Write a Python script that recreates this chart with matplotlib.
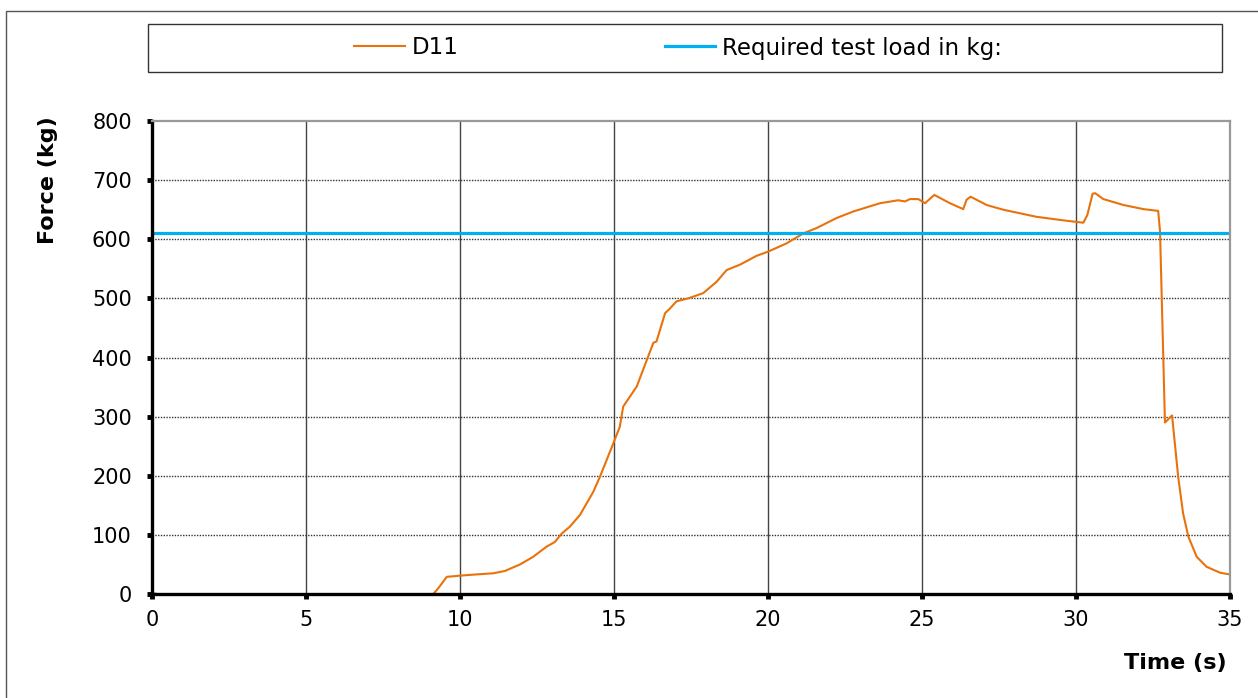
import matplotlib.pyplot as plt
from matplotlib.patches import Rectangle
from matplotlib.lines import Line2D

time_s = [0, 0.5, 1.5, 3, 5, 7, 8, 8.5, 9.0, 9.1, 9.3, 9.57, 10.0, 10.5,
          11.08, 11.46, 11.95, 12.38, 12.81, 13.08, 13.3, 13.57, 13.9, 14.33,
          14.55, 14.98, 15.19, 15.3, 15.74, 16.28, 16.38, 16.66, 16.82, 17.03,
          17.41, 17.9, 18.33, 18.66, 19.09, 19.63, 20.0, 20.6, 21.15, 21.58,
          22.23, 22.77, 23.64, 24.23, 24.45, 24.61, 24.88, 25.1, 25.4, 25.91,
          26.34, 26.45, 26.58, 27.1, 27.64, 28.72, 29.59, 30.24, 30.37, 30.54,
          30.62, 30.89, 31.54, 32.19, 32.67, 32.73, 32.89, 33.12, 33.32, 33.48,
          33.65, 33.92, 34.24, 34.68, 35.0]
force_kg = [2, -4, -4, -4, -4, -4, -3, -2, -3, -2, 10, 29, 31, 33,
            35, 39, 50, 63, 80, 88, 102, 114, 134, 173,
            199, 255, 283, 317, 351, 425, 427, 475, 483, 495,
            500, 509, 528, 548, 557, 572, 579, 593, 610, 619,
            636, 647, 661, 666, 664, 668, 668, 661, 675, 661,
            651, 667, 672, 658, 650, 638, 632, 628, 641, 677,
            678, 668, 658, 651, 648, 613, 290, 302, 198, 136,
            97, 63, 46, 36, 33]

required_load = 610
x_ticks = [0, 5, 10, 15, 20, 25, 30, 35]
y_ticks = [0, 100, 200, 300, 400, 500, 600, 700, 800]

orange = '#E8720C'
blue = '#00B0F0'

plt.rcParams['font.family'] = 'DejaVu Sans'

fig = plt.figure(figsize=(12.58, 6.98), dpi=100)
ax = fig.add_axes([0.1208, 0.149, 0.8569, 0.6776])

ax.plot(time_s, force_kg, color=orange, lw=1.5, zorder=3)
ax.plot([0, 35], [required_load, required_load], color=blue, lw=2.3, zorder=3)

ax.set_xlim(0, 35)
ax.set_ylim(0, 800)
ax.set_xticks(x_ticks)
ax.set_yticks(y_ticks)
ax.tick_params(direction='out', length=3.5, width=3.5, color='black',
               labelsize=15)
ax.tick_params(axis='y', pad=11)
ax.tick_params(axis='x', pad=8)

# vertical grid solid, horizontal grid dotted
for x in x_ticks[1:-1]:
    ax.axvline(x, color='#444444', lw=1, zorder=1)
for y in y_ticks[1:-1]:
    ax.axhline(y, color='#333333', lw=1, ls=(0, (1, 1)), zorder=1)

for side in ['left', 'bottom']:
    ax.spines[side].set_linewidth(2.4)
    ax.spines[side].set_color('black')
for side in ['top', 'right']:
    ax.spines[side].set_linewidth(1.6)
    ax.spines[side].set_color('#999999')
for sp in ax.spines.values():
    sp.set_zorder(4)

ax.set_ylabel('Force (kg)', fontsize=16, fontweight='bold', va='center')
ax.yaxis.set_label_coords(-0.0965, 0.875)
ax.set_xlabel('Time (s)', fontsize=16, fontweight='bold', ha='right', va='center')
ax.xaxis.set_label_coords(0.997, -0.146)

# legend box across the top
fig.patches.append(Rectangle((148 / 1258, 1 - 72 / 698), (1222 - 148) / 1258, 48 / 698,
                             transform=fig.transFigure, fill=False,
                             edgecolor='#333333', lw=1))
handles = [Line2D([], [], color=orange, lw=1.5),
           Line2D([], [], color=blue, lw=2.3)]
fig.legend(handles, ['D11', 'Required test load in kg:'], loc='center',
           bbox_to_anchor=(678 / 1258, 1 - 48 / 698), ncol=2, frameon=False,
           fontsize=16.5, handlelength=2.2, handletextpad=0.3, columnspacing=9.0)

# chart area border
fig.patches.append(Rectangle((6 / 1258, -0.05), 1.1, 1.05 - 11 / 698,
                             transform=fig.transFigure, fill=False,
                             edgecolor='#555555', lw=1))

fig.savefig('out.png', dpi=100)
